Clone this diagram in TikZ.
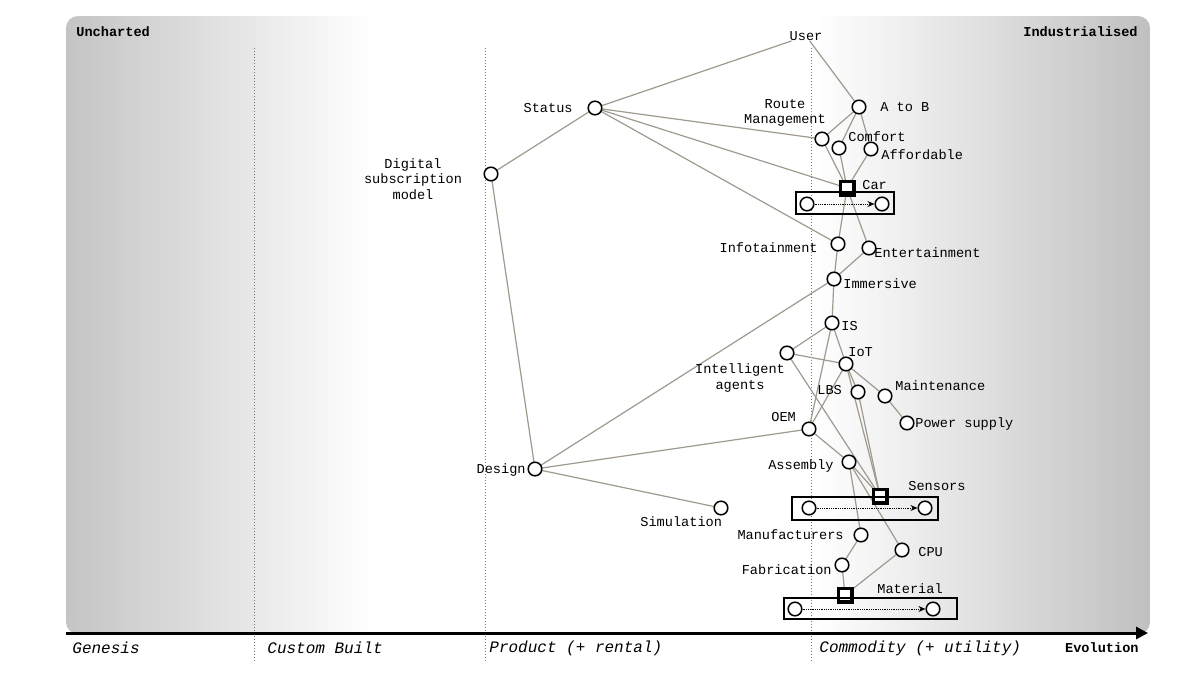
\documentclass[tikz,border=0pt]{standalone}
\usepackage{fontspec}
\setmonofont{Liberation Mono}
\usetikzlibrary{arrows.meta}
\pgfdeclarelayer{bg}
\pgfdeclarelayer{edges}
\pgfsetlayers{bg,edges,main}
\definecolor{edgec}{RGB}{160,154,142}
\definecolor{bgL}{RGB}{196,196,196}
\definecolor{bgR}{RGB}{192,192,192}
\definecolor{dotc}{RGB}{120,120,120}
\begin{document}
\begin{tikzpicture}[x=0.5pt,y=-0.5pt,
  comp/.style={circle,draw=black,fill=white,line width=0.75pt,minimum size=6.8pt,inner sep=0pt},
  sq/.style={rectangle,draw=black,fill=white,line width=1.9pt,minimum size=6.6pt,inner sep=0pt},
  lbl/.style={font=\ttfamily\fontsize{6.8}{7.6}\selectfont,inner sep=0pt,align=center},
  ttl/.style={font=\ttfamily\bfseries\fontsize{6.8}{7.6}\selectfont,inner sep=0pt},
  stage/.style={font=\ttfamily\itshape\fontsize{8}{9}\selectfont,inner sep=0pt,anchor=west},
  link/.style={draw=edgec,line width=0.6pt},
  evobox/.style={rectangle,draw=black,line width=0.7pt,inner sep=0pt},
  evoarrow/.style={draw=black,line width=0.5pt,dash pattern=on 0.4pt off 0.5pt,-{Stealth[length=3.5pt,width=3pt]}},
  divider/.style={draw=dotc,line width=0.4pt,dash pattern=on 0.4pt off 1.1pt}
]
\useasboundingbox (0,0) rectangle (1200,675);
% background
\begin{pgfonlayer}{bg}
  \begin{scope}
    \clip[rounded corners=6pt] (66,16) rectangle (1150,634);
    \fill[white] (66,16) rectangle (1150,634);
    \shade[left color=bgL,right color=white] (66,16) rectangle (372,634);
    \shade[left color=white,right color=bgR] (815,16) rectangle (1150,634);
  \end{scope}
  \draw[divider] (254,48) -- (254,662);
  \draw[divider] (485,48) -- (485,662);
  \draw[divider] (811,48) -- (811,662);
\end{pgfonlayer}
% axis
\coordinate (axs) at (66,633);
\coordinate (axe) at (1148,633);
\draw[line width=1.5pt,-{Triangle[length=6pt,width=6pt]}] (axs) -- (axe);
\node[ttl,anchor=west] (unch) at (76,32) {Uncharted};
\node[ttl,anchor=east] (indu) at (1138,32) {Industrialised};
\node[stage] (gen) at (72,648) {Genesis};
\node[stage] (cb) at (267,648) {Custom Built};
\node[stage] (prod) at (489,648) {Product (+ rental)};
\node[stage] (comm) at (819,648) {Commodity (+ utility)};
\node[ttl,anchor=east] (evo) at (1139,648) {Evolution};

% components
\node[lbl] (user) at (806,36) {User};
\node[comp] (status) at (595,108) {};
\node[comp] (digital) at (491,174) {};
\node[comp] (atob) at (859,107) {};
\node[comp] (route) at (822,139) {};
\node[comp] (comfort) at (839,148) {};
\node[comp] (afford) at (871,149) {};
\node[sq] (car) at (847,188) {};
\node[comp] (info) at (838,244) {};
\node[comp] (ent) at (869,248) {};
\node[comp] (imm) at (834,279) {};
\node[comp] (is) at (832,323) {};
\node[comp] (agents) at (787,353) {};
\node[comp] (iot) at (846,364) {};
\node[comp] (lbs) at (858,392) {};
\node[comp] (maint) at (885,396) {};
\node[comp] (power) at (907,423) {};
\node[comp] (oem) at (809,429) {};
\node[comp] (design) at (535,469) {};
\node[comp] (sim) at (721,508) {};
\node[comp] (assembly) at (849,462) {};
\node[sq] (sensors) at (880,496) {};
\node[comp] (manu) at (861,535) {};
\node[comp] (cpu) at (902,550) {};
\node[comp] (fab) at (842,565) {};
\node[sq] (material) at (845,595) {};

% labels
\node[lbl,anchor=east] (lstatus) at (573,108) {Status};
\node[lbl] (ldigital) at (413,179) {Digital\\subscription\\model};
\node[lbl,anchor=west] (latob) at (880,107) {A to B};
\node[lbl] (lroute) at (785,113) {Route\\Management};
\node[lbl,anchor=west] (lcomfort) at (848,137) {Comfort};
\node[lbl,anchor=west] (lafford) at (881,155) {Affordable};
\node[lbl,anchor=west] (lcar) at (862,185) {Car};
\node[lbl,anchor=east] (linfo) at (818,248) {Infotainment};
\node[lbl,anchor=west] (lent) at (874,253) {Entertainment};
\node[lbl,anchor=west] (limm) at (843,284) {Immersive};
\node[lbl,anchor=west] (lis) at (841,326) {IS};
\node[lbl] (lagents) at (740,378) {Intelligent\\agents};
\node[lbl,anchor=west] (liot) at (848,352) {IoT};
\node[lbl,anchor=west] (llbs) at (817,390) {LBS};
\node[lbl,anchor=west] (lmaint) at (895,386) {Maintenance};
\node[lbl,anchor=west] (lpower) at (915,424) {Power supply};
\node[lbl,anchor=west] (loem) at (771,417) {OEM};
\node[lbl,anchor=east] (ldesign) at (526,470) {Design};
\node[lbl,anchor=west] (lsim) at (640,522) {Simulation};
\node[lbl,anchor=east] (lassembly) at (834,466) {Assembly};
\node[lbl,anchor=west] (lsensors) at (908,486) {Sensors};
\node[lbl,anchor=east] (lmanu) at (844,535) {Manufacturers};
\node[lbl,anchor=west] (lcpu) at (918,552) {CPU};
\node[lbl,anchor=east] (lfab) at (832,570) {Fabrication};
\node[lbl,anchor=west] (lmaterial) at (877,589) {Material};

% evolution boxes
\node[evobox,minimum width=49pt,minimum height=11pt] (carbox) at (845,203) {};
\node[comp] (car1) at (807,204) {};
\node[comp] (car2) at (882,204) {};
\draw[evoarrow] (car1) -- (car2);
\node[evobox,minimum width=73pt,minimum height=11.5pt] (senbox) at (865,508.5) {};
\node[comp] (sen1) at (809,508) {};
\node[comp] (sen2) at (925,508) {};
\draw[evoarrow] (sen1) -- (sen2);
\node[evobox,minimum width=86.5pt,minimum height=10.5pt] (matbox) at (870.5,608.5) {};
\node[comp] (mat1) at (795,609) {};
\node[comp] (mat2) at (933,609) {};
\draw[evoarrow] (mat1) -- (mat2);

% links
\begin{pgfonlayer}{edges}
  \draw[link] (user) -- (status);
  \draw[link] (user) -- (atob);
  \draw[link] (status.center) -- (digital.center);
  \draw[link] (status.center) -- (route.center);
  \draw[link] (status.center) -- (car.center);
  \draw[link] (status.center) -- (info.center);
  \draw[link] (atob.center) -- (route.center);
  \draw[link] (atob.center) -- (comfort.center);
  \draw[link] (atob.center) -- (afford.center);
  \draw[link] (route.center) -- (car.center);
  \draw[link] (comfort.center) -- (car.center);
  \draw[link] (afford.center) -- (car.center);
  \draw[link] (car.center) -- (info.center);
  \draw[link] (car.center) -- (ent.center);
  \draw[link] (info.center) -- (imm.center);
  \draw[link] (ent.center) -- (imm.center);
  \draw[link] (imm.center) -- (is.center);
  \draw[link] (imm.center) -- (design.center);
  \draw[link] (digital.center) -- (design.center);
  \draw[link] (is.center) -- (agents.center);
  \draw[link] (is.center) -- (oem.center);
  \draw[link] (is.center) -- (iot.center);
  \draw[link] (agents.center) -- (iot.center);
  \draw[link] (agents.center) -- (sensors.center);
  \draw[link] (iot.center) -- (oem.center);
  \draw[link] (iot.center) -- (lbs.center);
  \draw[link] (iot.center) -- (sensors.center);
  \draw[link] (iot.center) -- (maint.center);
  \draw[link] (lbs.center) -- (sensors.center);
  \draw[link] (maint.center) -- (power.center);
  \draw[link] (oem.center) -- (design.center);
  \draw[link] (oem.center) -- (assembly.center);
  \draw[link] (design.center) -- (sim.center);
  \draw[link] (assembly.center) -- (sensors.center);
  \draw[link] (assembly.center) -- (manu.center);
  \draw[link] (assembly.center) -- (cpu.center);
  \draw[link] (manu.center) -- (fab.center);
  \draw[link] (fab.center) -- (material.center);
  \draw[link] (cpu.center) -- (material.center);
\end{pgfonlayer}
\end{tikzpicture}
\end{document}
